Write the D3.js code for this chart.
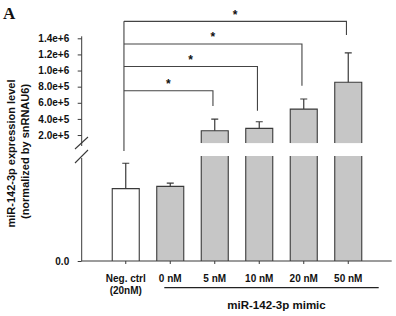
<!DOCTYPE html>
<html><head><meta charset="utf-8">
<script src="https://cdn.jsdelivr.net/npm/d3@7"></script>
<style>body{margin:0;background:#fff}svg{display:block}text{font-family:Arial,"Liberation Sans",sans-serif;font-weight:bold;fill:#111}</style>
</head><body>
<script>
const categories = ["Neg. ctrl", "0 nM", "5 nM", "10 nM", "20 nM", "50 nM"];
const subLabels = ["(20nM)", "", "", "", "", ""];
const values = [1.0, 1.03, 2.53e5, 2.83e5, 5.22e5, 8.54e5];
const errors = [0.35, 0.045, 1.45e5, 0.82e5, 1.25e5, 3.66e5];
const upperTicks = [2e5, 4e5, 6e5, 8e5, 1.0e6, 1.2e6, 1.4e6];
const lowerTicks = [0];
const brackets = [
  {target: "5 nM", y: 7.5e5, end: 5.6e5},
  {target: "10 nM", y: 1.05e6, end: 5.0e5},
  {target: "20 nM", y: 1.33e6, end: 8.1e5},
  {target: "50 nM", y: 1.61e6, end: 1.44e6}
];
const groupLabel = "miR-142-3p mimic";
const yTitle = ["miR-142-3p expression level", "(normalized by snRNAU6)"];

const W = 396, H = 316;
const svg = d3.select("body").append("svg").attr("width", W).attr("height", H);
const axisX = 81.7;
const x = d3.scaleBand().domain(categories).range([103.5, 370.5]).paddingInner(0.393).paddingOuter(0.1965);
const yU = d3.scaleLinear().domain([1e5, 1.4e6]).range([143.1, 38.3]);
const yL = d3.scaleLinear().domain([0, 1.45]).range([261, 156]).clamp(true);
const lowerMax = 1.45;
const stroke = "#3a3a3a";

// Bars
categories.forEach((c, i) => {
  const v = values[i], e = errors[i];
  const x0 = x(c), bw = x.bandwidth(), cx = x0 + bw / 2;
  const fill = i === 0 ? "#ffffff" : "#c6c6c6";
  const big = v > lowerMax;
  const lt = yL(v);
  svg.append("rect").attr("x", x0).attr("y", lt).attr("width", bw).attr("height", yL(0) - lt).attr("fill", fill);
  if (big) {
    svg.append("path").attr("d", `M${x0},${yL(0)}V${lt}M${x0+bw},${yL(0)}V${lt}`).attr("stroke", stroke).attr("stroke-width", 1.1).attr("fill", "none");
    const ut = yU(v);
    svg.append("rect").attr("x", x0).attr("y", ut).attr("width", bw).attr("height", yU(1e5) - ut).attr("fill", fill);
    svg.append("path").attr("d", `M${x0},${yU(1e5)}V${ut}H${x0+bw}V${yU(1e5)}`).attr("stroke", stroke).attr("stroke-width", 1.1).attr("fill", "none");
    const et = yU(v + e);
    svg.append("path").attr("d", `M${cx},${ut}V${et}M${cx-3.5},${et}H${cx+3.5}`).attr("stroke", stroke).attr("stroke-width", 1.2).attr("fill", "none");
  } else {
    svg.append("path").attr("d", `M${x0},${yL(0)}V${lt}H${x0+bw}V${yL(0)}`).attr("stroke", stroke).attr("stroke-width", 1.1).attr("fill", "none");
    const et = yL(v + e);
    svg.append("path").attr("d", `M${cx},${lt}V${et}M${cx-3.5},${et}H${cx+3.5}`).attr("stroke", stroke).attr("stroke-width", 1.2).attr("fill", "none");
  }
});

// Y axes
const gU = svg.append("g").attr("transform", `translate(${axisX},0)`)
  .call(d3.axisLeft(yU).tickValues(upperTicks).tickSize(4).tickPadding(8.5).tickFormat(d => d3.format(".1e")(d)));
gU.select(".domain").remove();
gU.append("line").attr("x1", 0).attr("x2", 0).attr("y1", yU(1.4e6) - 2).attr("y2", 146).attr("stroke", stroke);
const gL = svg.append("g").attr("transform", `translate(${axisX},0)`)
  .call(d3.axisLeft(yL).tickValues(lowerTicks).tickSize(4).tickPadding(8.5).tickFormat(d3.format(".1f")));
gL.select(".domain").remove();
gL.append("line").attr("x1", 0).attr("x2", 0).attr("y1", 158).attr("y2", yL(0)).attr("stroke", stroke);
svg.selectAll(".tick line").attr("stroke", stroke);
svg.selectAll(".tick text").style("font-size", "10px").style("font-weight", "bold").attr("fill", "#111");
svg.append("path").attr("d", "M75,149L88,137M75,163L88,150").attr("stroke", stroke).attr("stroke-width", 1.1);

// X axis
svg.append("line").attr("x1", axisX).attr("x2", 391.7).attr("y1", yL(0)).attr("y2", yL(0)).attr("stroke", stroke).attr("stroke-width", 1.1);
const gx = svg.append("g").attr("transform", `translate(0,${yL(0)})`).call(d3.axisBottom(x).tickSize(3).tickFormat(""));
gx.select(".domain").remove();
gx.selectAll(".tick line").attr("stroke", stroke);
categories.forEach((c, i) => {
  const cx = x(c) + x.bandwidth() / 2;
  svg.append("text").attr("x", cx).attr("y", 281.5).attr("text-anchor", "middle").style("font-size", "10px").text(c);
  if (subLabels[i]) svg.append("text").attr("x", cx).attr("y", 294).attr("text-anchor", "middle").style("font-size", "10px").text(subLabels[i]);
});
svg.append("line").attr("x1", 164.3).attr("x2", 378.7).attr("y1", 287.7).attr("y2", 287.7).attr("stroke", "#222").attr("stroke-width", 1.2);
svg.append("text").attr("x", 276.5).attr("y", 309).attr("text-anchor", "middle").style("font-size", "11.5px").text(groupLabel);

// Brackets
const leftX = x(categories[0]) + x.bandwidth() / 2 - 1.8;
brackets.forEach(b => {
  const rx = x(b.target) + x.bandwidth() / 2 - 1.8;
  const yy = yU(b.y);
  svg.append("path").attr("d", `M${leftX},${yy}H${rx}V${yU(b.end)}`).attr("stroke", "#444").attr("stroke-width", 1.1).attr("fill", "none");
  svg.append("text").attr("x", (leftX + rx) / 2).attr("y", yy - 2.5).attr("text-anchor", "middle").style("font-size", "12px").text("*");
});
svg.append("line").attr("x1", leftX).attr("x2", leftX).attr("y1", yU(brackets[3].y)).attr("y2", 151).attr("stroke", "#444").attr("stroke-width", 1.1);

// Y title
yTitle.forEach((t, i) => {
  const cx = i === 0 ? 11 : 25, cy = i === 0 ? 153.5 : 151.5;
  svg.append("text").attr("transform", `translate(${cx + 4},${cy}) rotate(-90)`).attr("text-anchor", "middle").style("font-size", "11px").text(t);
});

svg.append("text").attr("x", 3).attr("y", 18.5).style("font-family", "'Liberation Serif','Times New Roman',serif").style("font-size", "17px").text("A");
</script>
</body></html>
